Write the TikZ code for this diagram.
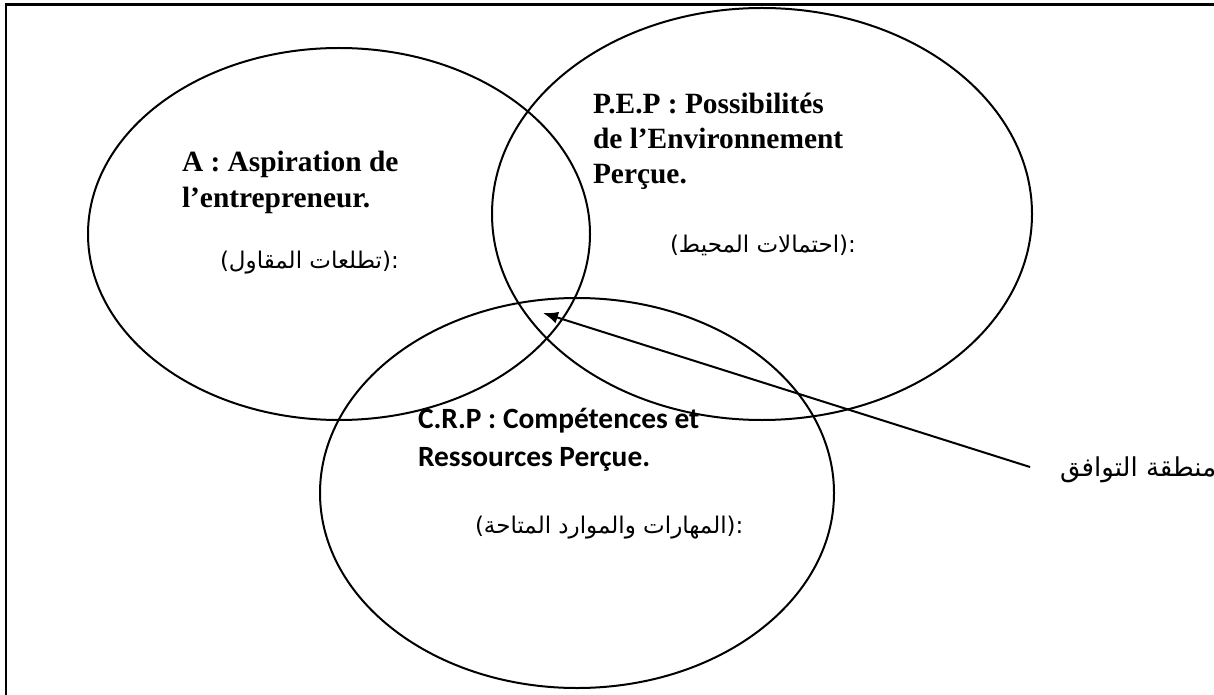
\documentclass[tikz,border=0pt]{standalone}
\usepackage{fontspec}
\setmainfont{Liberation Serif}
\newfontfamily\calfont{Carlito}
\newfontfamily\dejavu{DejaVu Sans}
\newfontfamily\arabicfont[Script=Arabic]{DejaVu Sans}
\TeXXeTstate=1
\newcommand{\arlabel}[1]{{\dejavu(}\beginR#1\endR{\dejavu):}}
\usepackage{tikz}
\usetikzlibrary{arrows.meta,positioning,shapes.geometric}

\begin{document}
\begin{tikzpicture}[x=0.5pt,y=-0.5pt,
  every node/.style={inner sep=0pt,outer sep=0pt}
]

\tikzstyle{zone}=[draw,ellipse,line width=1pt]
\tikzstyle{latin}=[anchor=base west,align=left,font=\fontsize{14.7}{17.6}\selectfont\bfseries]
\tikzstyle{arab}=[anchor=base west,font=\fontsize{11.5}{14}\selectfont\arabicfont]
\tikzset{calibri/.style={latin,font=\fontsize{14.7}{19}\selectfont\calfont\bfseries}}

\useasboundingbox (0,0) rectangle (1214,695);
\draw[line width=1.2pt] (6.2,695) -- (6.2,4.5) -- (1214,4.5);

\node[zone,minimum width=251pt,minimum height=186pt] (asp) at (339,234) {};
\node[zone,minimum width=270pt,minimum height=206pt] (pep) at (762,214) {};
\node[zone,minimum width=257pt,minimum height=195pt] (crp) at (577,493) {};

\node[latin] (asptxt) at (182,207) {A : Aspiration de\\l’entrepreneur.};
\node[arab]  (asparb) at (220,268) {\arlabel{تطلعات المقاول}};

\node[latin] (peptxt) at (593,184) {P.E.P : Possibilités\\de l’Environnement\\Perçue.};
\node[arab]  (peparb) at (670,252) {\arlabel{احتمالات المحيط}};

\node[calibri] (crptxt) at (418,466) {C.R.P : Compétences et\\Ressources Perçue.};
\node[arab]  (crparb) at (475,533) {\arlabel{المهارات والموارد المتاحة}};

\node[arab,anchor=west,font=\fontsize{13}{15}\selectfont\arabicfont] (agree) at (1060,470) {\beginR منطقة التوافق\endR};
\coordinate[left=15pt of agree.west,yshift=1.5pt] (agreeend);
\coordinate (overlap) at (543,313);

\draw[->,>={Latex[length=7.5pt,width=6pt]},line width=1pt]
  (agreeend) -- (overlap);

\end{tikzpicture}
\end{document}
